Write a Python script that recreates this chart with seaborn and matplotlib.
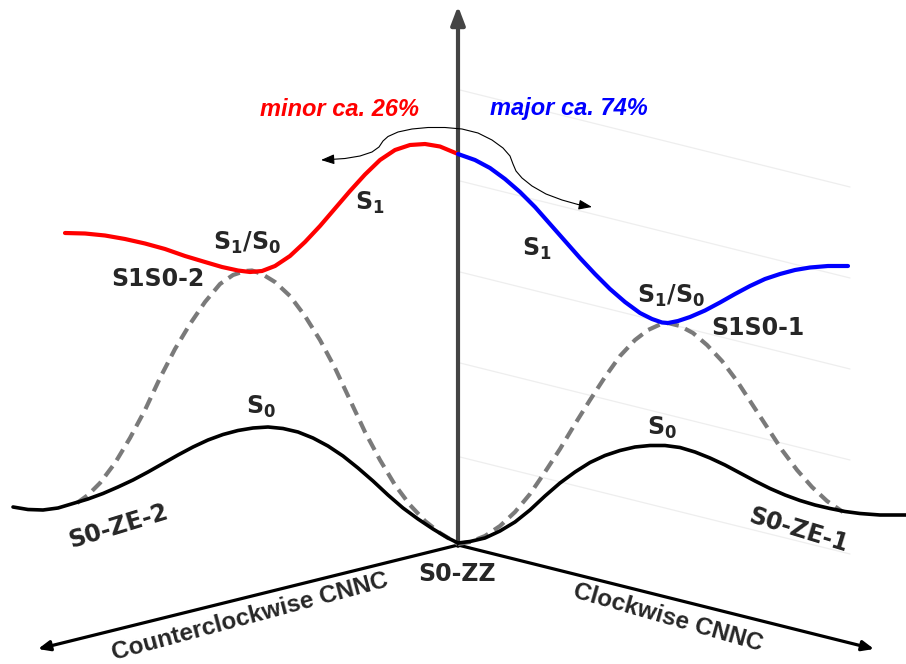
import matplotlib
matplotlib.use("Agg")
import matplotlib.pyplot as plt
from matplotlib import font_manager
import seaborn as sns

# ---- data (pixel-space readings of the schematic) ----
s1_minor_x = [65, 85, 105, 125, 145, 165, 185, 205, 222, 238, 250, 262, 275, 290, 305, 320, 335, 350, 365, 380, 395, 410, 425, 440, 458]
s1_minor_y = [233, 233.5, 235.5, 239, 243.5, 249, 256, 262, 267, 270.5, 272, 271, 266, 256, 242, 226, 208.5, 191, 174.5, 160, 150, 145, 144, 146.5, 154]

s1_major_x = [458, 475, 490, 505, 520, 535, 550, 565, 580, 595, 610, 625, 640, 652, 662, 668, 678, 690, 705, 720, 735, 750, 765, 780, 795, 810, 828, 848]
s1_major_y = [154, 160, 168, 179, 192, 207, 224, 241, 258, 274, 289, 302, 313, 319, 322.5, 323, 321, 317, 310.5, 302.5, 294, 286, 279, 274, 270, 267.5, 266, 266]

dash_left_x = [77, 88, 100, 115, 130, 145, 160, 175, 190, 205, 220, 233, 245, 252, 262, 275, 290, 305, 320, 335, 350, 365, 380, 395, 410, 425, 440, 458]
dash_left_y = [503, 495, 483, 463, 438, 410, 378, 349, 324, 302, 284, 275, 271, 270.5, 274, 282, 296, 316, 340, 368, 400, 432, 460, 485, 505, 521, 533, 544]

dash_right_x = [458, 470, 485, 500, 515, 530, 545, 560, 575, 590, 605, 620, 635, 648, 660, 668, 680, 693, 707, 722, 737, 752, 767, 782, 797, 812, 827, 843]
dash_right_y = [544, 542, 536, 526, 512, 494, 472, 449, 424, 400, 377, 356, 340, 330, 324.5, 323, 326, 333, 345, 361, 381, 404, 427, 450, 470, 487, 501, 512]

s0_left_x = [13, 28, 43, 58, 73, 88, 103, 118, 133, 148, 163, 178, 193, 208, 223, 238, 253, 268, 283, 298, 313, 328, 343, 358, 373, 388, 403, 418, 433, 448, 458]
s0_left_y = [507, 509.5, 510, 508, 503.5, 499, 493.5, 487, 480, 472, 463.5, 455, 447, 440, 434.5, 430.5, 428, 427, 428.5, 432, 438, 446, 456, 468, 481, 495, 508, 519, 529, 538, 543]

s0_right_x = [458, 470, 485, 500, 515, 530, 545, 560, 575, 590, 605, 620, 635, 650, 665, 680, 695, 710, 725, 740, 755, 770, 785, 800, 815, 830, 845, 860, 880, 906]
s0_right_y = [543, 541.5, 538, 531, 522, 510, 496, 483, 472, 462.5, 455.5, 450.5, 447, 445.5, 445.5, 447.5, 452, 458, 465, 473, 481, 488.5, 495, 500.5, 505, 508.5, 511.5, 513.5, 515, 515]

hop_x = [330, 345, 360, 372, 379, 383, 388, 398, 412, 428, 445, 462, 478, 492, 503, 510, 513, 516, 522, 532, 546, 562, 578]
hop_y = [159.5, 158.5, 156, 152, 147, 141, 136.5, 132, 129, 127.5, 127.5, 129, 133, 140, 148, 156, 164, 171, 178, 186, 194, 200, 204.5]

grid_left_y = [90, 181, 272, 363, 457]
grid_right_y = [187, 278, 369, 460, 554]

labels = ["minor ca. 26%", "major ca. 74%", "S$_1$", "S$_1$/S$_0$", "S1S0-2", "S$_0$", "S0-ZE-2",
          "S$_1$", "S$_1$/S$_0$", "S1S0-1", "S$_0$", "S0-ZE-1", "S0-ZZ",
          "Counterclockwise CNNC", "Clockwise CNNC"]

# ---- fonts ----
sns.set_style("white")
available = {f.name for f in font_manager.fontManager.ttflist}
narrow = "Liberation Sans Narrow" if "Liberation Sans Narrow" in available else None
plt.rcParams["font.family"] = ["DejaVu Sans"]
plt.rcParams["mathtext.fontset"] = "custom"
plt.rcParams["mathtext.rm"] = "DejaVu Sans:bold"
plt.rcParams["mathtext.it"] = "DejaVu Sans:bold"
plt.rcParams["mathtext.bf"] = "DejaVu Sans:bold"

fig = plt.figure(figsize=(9.06, 6.64), dpi=100)
ax = fig.add_axes([0, 0, 1, 1])
ax.set_xlim(0, 906)
ax.set_ylim(664, 0)
ax.axis("off")

# faint perspective guide lines
for yl, yr in zip(grid_left_y, grid_right_y):
    sns.lineplot(x=[460, 850], y=[yl, yr], ax=ax, color="#eeeeee", lw=0.9, sort=False)

# axes of the schematic
ax.annotate("", xy=(458, 6), xytext=(458, 546),
            arrowprops=dict(arrowstyle="-|>,head_length=1.1,head_width=0.42", color="#444444", lw=3.0,
                            shrinkA=0, shrinkB=0), zorder=2)
for tip in [(38, 649), (874, 649)]:
    ax.annotate("", xy=tip, xytext=(458, 545),
                arrowprops=dict(arrowstyle="-|>,head_length=0.7,head_width=0.3", color="black", lw=2.3,
                                shrinkA=0, shrinkB=0), zorder=3)

# curves
dash = (0, (3.0, 1.7))
sns.lineplot(x=dash_left_x, y=dash_left_y, ax=ax, color="#7a7a7a", lw=3.0, sort=False, linestyle=dash, zorder=3)
sns.lineplot(x=dash_right_x, y=dash_right_y, ax=ax, color="#7a7a7a", lw=3.0, sort=False, linestyle=dash, zorder=3)
sns.lineplot(x=s0_left_x, y=s0_left_y, ax=ax, color="black", lw=2.6, sort=False, zorder=4)
sns.lineplot(x=s0_right_x, y=s0_right_y, ax=ax, color="black", lw=2.6, sort=False, zorder=4)
sns.lineplot(x=s1_minor_x, y=s1_minor_y, ax=ax, color="#ff0000", lw=3.0, sort=False, zorder=4)
sns.lineplot(x=s1_major_x, y=s1_major_y, ax=ax, color="#0000ff", lw=3.0, sort=False, zorder=4)

for l in ax.lines:
    l.set_solid_joinstyle("round")
    l.set_dash_joinstyle("round")

# thin double-headed hop arrow
sns.lineplot(x=hop_x, y=hop_y, ax=ax, color="black", lw=0.8, sort=False, zorder=5)
ax.annotate("", xy=(321, 160), xytext=(hop_x[0], hop_y[0]),
            arrowprops=dict(arrowstyle="-|>,head_length=0.8,head_width=0.3", color="black", lw=0.8,
                            shrinkA=0, shrinkB=0), zorder=5)
ax.annotate("", xy=(592, 207), xytext=(hop_x[-1], hop_y[-1]),
            arrowprops=dict(arrowstyle="-|>,head_length=0.8,head_width=0.3", color="black", lw=0.8,
                            shrinkA=0, shrinkB=0), zorder=5)

# texts
lab = dict(fontsize=17, fontweight="bold", ha="center", va="center", zorder=6,
           family=["DejaVu Sans"])
if narrow:
    ital = dict(fontsize=20, fontweight="bold", style="italic", ha="center", va="center", zorder=6,
                family=[narrow, "DejaVu Sans"])
    axl = dict(fontsize=19.5, fontweight="bold", ha="center", va="center", zorder=6,
               family=[narrow, "DejaVu Sans"])
else:
    ital = dict(fontsize=17, fontweight="bold", style="italic", ha="center", va="center", zorder=6,
                family=["Liberation Sans", "DejaVu Sans"])
    axl = dict(fontsize=17.5, fontweight="bold", ha="center", va="center", zorder=6,
               family=["Liberation Sans", "DejaVu Sans"])

ax.text(340, 109, labels[0], color="#ff0000", **ital)
ax.text(569, 109, labels[1], color="#0000ff", **ital)
ax.text(370, 203, labels[2], **lab)
ax.text(247, 243, labels[3], **lab)
ax.text(158, 279, labels[4], **lab)
ax.text(261, 407, labels[5], **lab)
ax.text(118, 526, labels[6], rotation=17, rotation_mode="anchor", **lab)
ax.text(537, 249, labels[7], **lab)
ax.text(671, 296, labels[8], **lab)
ax.text(758, 328, labels[9], **lab)
ax.text(662, 428, labels[10], **lab)
ax.text(798, 530, labels[11], rotation=-17, rotation_mode="anchor", **lab)
ax.text(457, 574, labels[12], **lab)
ax.text(250, 617, labels[13], rotation=15, rotation_mode="anchor", **axl)
ax.text(668, 618, labels[14], rotation=-16, rotation_mode="anchor", **axl)

fig.savefig("out.png", dpi=100)
